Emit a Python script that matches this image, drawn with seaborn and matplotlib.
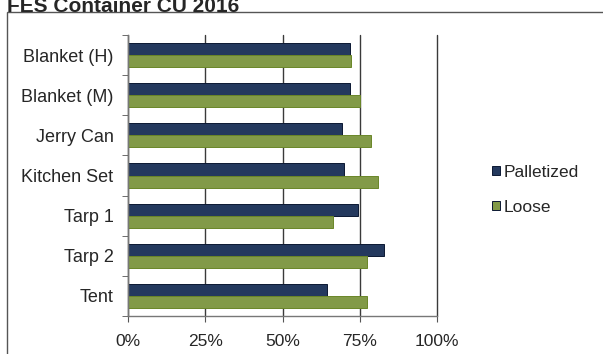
import numpy as np
import pandas as pd
import seaborn as sns
import matplotlib.pyplot as plt
from matplotlib.patches import Rectangle
from matplotlib.ticker import FuncFormatter, FixedLocator

# chart values (share of container capacity used)
categories = ["Blanket (H)", "Blanket (M)", "Jerry Can", "Kitchen Set", "Tarp 1", "Tarp 2", "Tent"]
palletized = [71.8, 71.8, 69.3, 70.0, 74.3, 82.7, 64.5]
loose = [72.2, 75.1, 78.8, 80.8, 66.2, 77.4, 77.4]
series_names = ["Palletized", "Loose"]
x_ticks = [0, 25, 50, 75, 100]

df = pd.DataFrame({
    "item": categories * 2,
    "value": palletized + loose,
    "series": [series_names[0]] * len(categories) + [series_names[1]] * len(categories),
})

sns.set_style("white")
plt.rcParams["font.family"] = ["Liberation Sans", "DejaVu Sans"]

fig = plt.figure(figsize=(6.03, 3.54), dpi=100)
ax = fig.add_axes([128 / 603, 1 - 316 / 354, 309 / 603, 281 / 354])

colors = {"Palletized": "#1a3668", "Loose": "#88a83a"}
sns.barplot(data=df, y="item", x="value", hue="series", order=categories,
            hue_order=series_names, palette=colors, orient="h", width=0.6,
            edgecolor="#0b1833", linewidth=0.7, ax=ax)
for bar in ax.containers[1]:
    bar.set_edgecolor("#6a8628")

ax.set_xlim(0, 100)
ax.set_ylim(len(categories) - 0.5, -0.5)
ax.xaxis.set_major_locator(FixedLocator(x_ticks))
ax.xaxis.set_major_formatter(FuncFormatter(lambda v, p: f"{v:.0f}%"))
ax.tick_params(axis="x", labelsize=12.5, length=4, color="#555555", direction="out", pad=9, bottom=True)
ax.tick_params(axis="y", which="major", length=0, labelsize=13, pad=10.5)
ax.set_yticks(np.arange(-0.5, len(categories)), minor=True)
ax.tick_params(axis="y", which="minor", length=4, color="#555555", direction="out", left=True)
ax.grid(axis="x", color="#3a3a3a", linewidth=1.0)
for gl in ax.get_xgridlines():
    gl.set_clip_on(False)
ax.set_axisbelow(True)
ax.set_xlabel("")
ax.set_ylabel("")
for side in ["top", "right"]:
    ax.spines[side].set_visible(False)
for side in ["left", "bottom"]:
    ax.spines[side].set_color("#777777")
    ax.spines[side].set_linewidth(1.0)

leg = ax.legend(loc="center left", bbox_to_anchor=(1.127, 0.45), frameon=False,
                fontsize=12.5, handlelength=0.45, handleheight=0.45, handletextpad=0.25,
                labelspacing=1.15)

# outer chart box, partly out of frame
fig.patches.append(Rectangle((7 / 603, -0.05), 1.0, 1 - 12 / 354 + 0.05, transform=fig.transFigure,
                             fill=False, edgecolor="#555555", linewidth=1.0))
fig.text(7 / 603, 1 - 12.5 / 354, "FES Container CU 2016", fontsize=15, fontweight="bold",
         va="baseline", ha="left")

fig.savefig("out.png", dpi=100)
